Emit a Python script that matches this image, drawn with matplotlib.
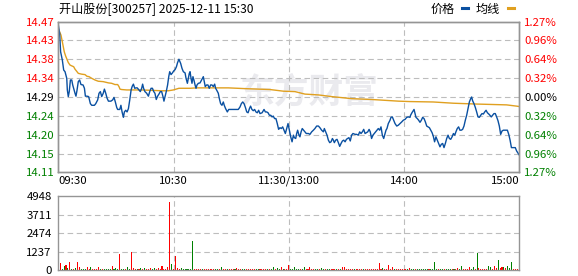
import matplotlib
matplotlib.use("Agg")
import matplotlib.pyplot as plt
from matplotlib.lines import Line2D

plt.rcParams['font.family'] = ['Noto Sans CJK SC', 'DejaVu Sans']

title = "开山股份[300257] 2025-12-11 15:30"
pre_close = 14.29
pct_levels = [1.27, 0.96, 0.64, 0.32, 0.00, -0.32, -0.64, -0.96, -1.27]
price_labels = ["14.47", "14.43", "14.38", "14.34", "14.29",
                "14.24", "14.20", "14.15", "14.11"]
pct_labels = ["1.27%", "0.96%", "0.64%", "0.32%", "0.00%",
              "0.32%", "0.64%", "0.96%", "1.27%"]
time_ticks = [0, 60, 120, 180, 240]
time_labels = ["09:30", "10:30", "11:30/13:00", "14:00", "15:00"]
vol_ticks = [0, 1237, 2474, 3711, 4948]

# price line (minute from 09:30, price)
price_min = [
    0.0, 0.7, 1.2, 2.1, 2.8, 3.5, 4.4, 4.7, 5.2, 5.7, 6.3, 7.0, 7.5, 8.2,
    8.7, 9.2, 9.7, 10.4, 11.1, 11.8, 12.9, 13.6, 14.1, 14.9, 15.8, 16.7,
    17.4, 18.8, 19.5, 20.5, 21.2, 21.9, 22.6, 23.4, 24.0, 24.7, 25.4, 26.1,
    27.4, 28.3, 29.0, 29.7, 30.4, 30.9, 32.0, 32.6, 33.2, 33.9, 34.4, 35.1,
    35.8, 36.5, 37.2, 37.9, 38.5, 39.1, 39.8, 40.5, 41.1, 42.0, 42.7, 43.4,
    43.9, 44.4, 45.1, 46.0, 46.9, 47.6, 48.3, 49.0, 49.7, 50.3, 51.0, 51.7,
    52.4, 53.1, 53.8, 54.5, 55.0, 55.6, 56.2, 56.9, 57.5, 58.0, 58.7, 59.4,
    60.1, 60.8, 61.5, 62.1, 62.8,
    63.7, 64.4, 65.1, 66.0, 66.5, 67.2, 67.7, 68.2, 68.6, 69.1, 69.6, 70.1,
    70.6, 71.2, 71.7, 72.2, 72.9, 73.8, 74.6, 75.5, 76.0, 76.5, 77.2, 77.9,
    78.6, 79.3, 80.0, 80.7, 81.4, 81.9, 82.4, 83.3, 83.8, 84.5, 85.2, 85.9,
    86.4, 87.1, 88.0, 88.7, 90.3, 92.0, 93.7, 94.6, 95.3, 96.0, 96.7, 97.4,
    98.1, 98.8, 99.5, 100.1, 100.8, 101.5, 102.2, 102.9, 103.6, 104.3,
    105.0, 106.1, 107.1, 107.8, 108.5, 109.2, 109.9, 110.6, 111.3, 111.9,
    112.6, 113.3, 114.0, 114.7, 115.4, 116.1, 116.8, 117.5, 118.2, 118.9,
    119.6, 120.3, 121.0, 121.7, 122.4, 122.9,
    123.6, 124.1, 124.6, 125.3, 125.8, 126.4, 127.0, 127.7, 128.4, 129.1,
    130.2, 131.0, 131.9, 132.8, 133.6, 134.5, 135.4, 136.2, 137.1, 138.0,
    138.5, 139.2, 139.9, 140.6, 141.3, 142.0, 142.7, 143.2, 143.7, 144.4,
    145.1, 145.8, 146.5, 147.2, 147.9, 148.6, 149.3, 150.0, 150.6, 151.3,
    152.0, 152.7, 153.4, 154.5, 155.3, 156.2, 156.9, 157.6, 158.3, 159.0,
    159.7, 160.4, 161.1, 161.8, 162.4, 163.1, 163.8, 164.5, 165.2, 165.9,
    166.6, 167.3, 168.0, 168.7, 169.4, 170.1, 170.6, 171.1, 171.8, 172.7,
    173.2, 173.9, 174.6, 175.3, 176.2, 177.0, 177.9, 178.8, 179.6, 180.5,
    181.4, 182.2, 183.1,
    183.4, 184.1, 184.8, 185.2, 185.7, 186.2, 186.9, 187.6, 188.3, 189.0,
    189.7, 190.4, 191.1, 191.8, 192.5, 193.2, 193.9, 194.6, 195.2, 195.9,
    196.6, 197.3, 198.0, 198.7, 199.4, 200.1, 200.8, 201.5, 202.2, 202.9,
    203.6, 204.3, 205.0, 205.7, 206.4, 207.0, 207.7, 208.4, 209.1, 209.8,
    210.5, 211.2, 211.9, 212.6, 213.3, 214.0, 214.7, 215.2, 215.7, 216.4,
    217.1, 217.8, 218.5, 219.2, 219.9, 220.6, 221.3, 222.0, 222.7, 223.4,
    224.1, 224.7, 225.4, 226.1, 226.8, 227.5, 228.2, 228.9, 229.6, 230.3,
    231.0, 231.7, 233.1, 233.8, 234.5, 235.2, 235.9, 236.9, 237.9, 238.6,
    239.3, 240.0,
]
price_val = [
    14.464, 14.443, 14.399, 14.379, 14.355, 14.351, 14.335, 14.307, 14.291,
    14.303, 14.331, 14.331, 14.319, 14.307, 14.299, 14.292, 14.305, 14.327,
    14.331, 14.320, 14.319, 14.311, 14.292, 14.292, 14.291, 14.274, 14.270,
    14.270, 14.274, 14.283, 14.299, 14.303, 14.291, 14.299, 14.309, 14.299,
    14.287, 14.280, 14.280, 14.283, 14.289, 14.278, 14.265, 14.260, 14.260,
    14.270, 14.254, 14.241, 14.254, 14.258, 14.254, 14.262, 14.283, 14.307,
    14.316, 14.321, 14.311, 14.312, 14.312, 14.307, 14.303, 14.311, 14.321,
    14.311, 14.303, 14.299, 14.292, 14.303, 14.311, 14.311, 14.303, 14.299,
    14.284, 14.292, 14.297, 14.303, 14.303, 14.291, 14.280, 14.291, 14.303,
    14.319, 14.339, 14.351, 14.344, 14.348, 14.353, 14.356, 14.363, 14.373,
    14.381,
    14.371, 14.359, 14.351, 14.348, 14.335, 14.323, 14.335, 14.347, 14.351,
    14.335, 14.323, 14.339, 14.331, 14.319, 14.311, 14.319, 14.323, 14.324,
    14.331, 14.339, 14.327, 14.315, 14.319, 14.319, 14.311, 14.319, 14.319,
    14.315, 14.321, 14.311, 14.307, 14.299, 14.287, 14.274, 14.270, 14.278,
    14.270, 14.262, 14.254, 14.260, 14.260, 14.260, 14.260, 14.266, 14.274,
    14.278, 14.274, 14.265, 14.254, 14.252, 14.262, 14.268, 14.260, 14.257,
    14.260, 14.254, 14.252, 14.258, 14.250, 14.252, 14.260, 14.254, 14.254,
    14.252, 14.246, 14.246, 14.242, 14.244, 14.238, 14.238, 14.226, 14.212,
    14.216, 14.214, 14.218, 14.210, 14.202, 14.214, 14.226, 14.210, 14.194,
    14.182, 14.198, 14.192,
    14.190, 14.202, 14.210, 14.198, 14.194, 14.206, 14.214, 14.210, 14.206,
    14.202, 14.202, 14.200, 14.206, 14.210, 14.214, 14.220, 14.220, 14.216,
    14.210, 14.206, 14.214, 14.206, 14.198, 14.186, 14.180, 14.182, 14.190,
    14.186, 14.180, 14.186, 14.188, 14.180, 14.171, 14.178, 14.184, 14.186,
    14.182, 14.188, 14.190, 14.192, 14.184, 14.198, 14.202, 14.200, 14.200,
    14.198, 14.206, 14.202, 14.206, 14.212, 14.202, 14.204, 14.206, 14.212,
    14.206, 14.190, 14.198, 14.202, 14.206, 14.210, 14.214, 14.210, 14.218,
    14.198, 14.190, 14.202, 14.210, 14.214, 14.226, 14.234, 14.241, 14.242,
    14.234, 14.226, 14.220, 14.222, 14.226, 14.230, 14.234, 14.236, 14.241,
    14.242, 14.241,
    14.246, 14.252, 14.257, 14.260, 14.250, 14.241, 14.238, 14.234, 14.229,
    14.234, 14.241, 14.238, 14.230, 14.220, 14.218, 14.216, 14.210, 14.204,
    14.196, 14.182, 14.194, 14.186, 14.178, 14.170, 14.176, 14.178, 14.168,
    14.178, 14.190, 14.198, 14.190, 14.188, 14.194, 14.202, 14.198, 14.206,
    14.214, 14.218, 14.210, 14.210, 14.212, 14.220, 14.234, 14.246, 14.262,
    14.278, 14.286, 14.290, 14.281, 14.274, 14.265, 14.254, 14.242, 14.241,
    14.246, 14.250, 14.249, 14.254, 14.258, 14.252, 14.249, 14.246, 14.242,
    14.246, 14.250, 14.250, 14.242, 14.233, 14.220, 14.200, 14.208, 14.210,
    14.210, 14.210, 14.200, 14.186, 14.168, 14.168, 14.168, 14.160, 14.155,
    14.150,
]

# average price line
avg_min = [0.0, 1.4, 2.1, 2.6, 3.1, 3.8, 4.5, 5.2, 6.1, 7.0, 8.0, 8.7, 9.4,
           10.4, 12.2, 13.9, 14.9, 16.0, 17.4, 19.1, 20.8, 23.4, 26.1, 27.8,
           29.5, 30.9, 31.6, 32.1, 33.0, 35.6, 38.2, 43.4, 48.6, 53.8, 57.3,
           59.9, 62.8, 68.6, 72.0, 79.0, 88.5, 98.1, 110.2, 117.2, 123.2,
           128.4, 135.4, 142.3, 152.7, 163.1, 170.1, 177.0, 183.1, 195.2,
           205.7, 217.8, 233.4, 238.6, 240.0]
avg_val = [14.455, 14.439, 14.423, 14.411, 14.399, 14.389, 14.381, 14.373,
           14.367, 14.365, 14.363, 14.357, 14.353, 14.347, 14.345, 14.344,
           14.340, 14.339, 14.335, 14.331, 14.328, 14.327, 14.324, 14.323,
           14.320, 14.320, 14.315, 14.309, 14.308, 14.307, 14.307, 14.307,
           14.306, 14.305, 14.305, 14.307, 14.311, 14.311, 14.312, 14.312,
           14.312, 14.310, 14.308, 14.304, 14.303, 14.297, 14.295, 14.291,
           14.286, 14.284, 14.282, 14.280, 14.279, 14.278, 14.275, 14.273,
           14.271, 14.268, 14.267]

# volume per minute (241 bars) and direction r=up g=down
volumes = [
    0, 470, 70, 250, 340, 130, 540, 70, 70, 130,
    540, 200, 70, 70, 70, 200, 70, 200, 70, 70,
    70, 200, 70, 70, 70, 70, 70, 70, 270, 70,
    130, 70, 1075, 70, 70, 70, 200, 70, 1210, 130,
    70, 70, 70, 130, 70, 130, 70, 70, 130, 70,
    130, 70, 130, 70, 270, 70, 70, 200, 4570, 400,
    70, 940, 130, 70, 130, 70, 70, 70, 70, 70,
    1950, 70, 70, 70, 70, 70, 70, 70, 70, 70,
    70, 70, 70, 70, 70, 200, 70, 70, 70, 70,
    70, 70, 70, 130, 70, 70, 70, 70, 70, 70,
    70, 70, 70, 70, 70, 70, 70, 70, 70, 70,
    70, 70, 200, 70, 130, 70, 200, 70, 70, 70,
    336, 70, 70, 200, 70, 70, 70, 70, 200, 70,
    70, 200, 70, 70, 70, 70, 70, 130, 70, 70,
    70, 70, 70, 70, 70, 70, 70, 70, 200, 200,
    70, 70, 70, 70, 70, 70, 70, 70, 70, 70,
    70, 70, 70, 70, 70, 70, 70, 470, 70, 130,
    70, 70, 336, 70, 200, 70, 70, 70, 70, 70,
    70, 70, 70, 130, 70, 70, 70, 70, 70, 70,
    70, 70, 70, 70, 70, 70, 540, 70, 70, 70,
    70, 70, 70, 70, 70, 70, 70, 70, 130, 70,
    270, 70, 70, 70, 200, 70, 200, 70, 1150, 130,
    70, 70, 70, 70, 270, 200, 70, 270, 130, 680,
    130, 200, 200, 130, 270, 130, 550, 70, 70, 70, 410,
]
vol_dir = ("rrggrgrgrg" "rrgggrrgrr" "rrgrggggrg" "ggrggrggrr"
           "rgrgrgrrrg" "grrrrrrrrg" "rrrrgggggg" "grrrrgrrrr"
           "rrggrgrrgr" "rrgrrrggrr" "rrrggrrrrg" "rggrggrgrr"
           "rgggggrggr" "rrrrggrggr" "ggrrrgrgrr" "rrrrgrrrrg"
           "rrrrrrrrrg" "rrrrrgrrrr" "rrgrggrggg" "gggrggggrg"
           "grgggrgrrg" "grrrrggrgr" "rrrrggrrrg" "rrgrgggrrrg")

UP = '#FF0000'
DOWN = '#008000'
BORDER = '#959595'
GRID = '#BDBDBD'


def style_axes(ax, yvals):
    for s in ax.spines.values():
        s.set_color(BORDER)
        s.set_linewidth(1.0)
        s.set_zorder(5)
    ax.tick_params(length=0)
    # dashed grid at the inner ticks
    for y in yvals[1:-1]:
        ax.axhline(y, color=GRID, linewidth=0.8, dashes=(5, 3.2),
                   snap=True, zorder=1.5)
    for x in time_ticks[1:-1]:
        ax.axvline(x, color=GRID, linewidth=0.8, dashes=(5, 3.2),
                   snap=True, zorder=1.5)


def main():
    fig = plt.figure(figsize=(5.78, 2.76), dpi=100)
    fig.patch.set_facecolor('white')

    ax = fig.add_axes([58.3 / 578, (276 - 172.3) / 276, 461 / 578, 150.6 / 276])
    ax_v = fig.add_axes([58.3 / 578, (276 - 270) / 276, 461 / 578, 73.7 / 276])

    levels = [pre_close * (1 + p / 100) for p in pct_levels]
    lab_colors = [UP if p > 0 else (DOWN if p < 0 else 'black') for p in pct_levels]

    # price panel
    ax.set_xlim(time_ticks[0], time_ticks[-1])
    ax.set_ylim(levels[-1], levels[0])
    style_axes(ax, levels)
    ax.text(0.545, 0.53, "东方财富", transform=ax.transAxes, fontsize=25,
            fontweight='bold', color='#EAEAEE', ha='center', va='center',
            zorder=0)
    ax.plot(avg_min, avg_val, color='#E0A020', linewidth=1.0, zorder=3)
    ax.plot(price_min, price_val, color='#0A50A1', linewidth=1.0, zorder=4)

    ax.set_yticks(levels)
    ax.set_yticklabels(price_labels, fontsize=8.2)
    ax.tick_params(axis='y', pad=2.4)
    for t, c in zip(ax.get_yticklabels(), lab_colors):
        t.set_color(c)

    ax.set_xticks(time_ticks)
    ax.set_xticklabels(time_labels, fontsize=8.2)
    ax.tick_params(axis='x', pad=2.5)
    xl = ax.get_xticklabels()
    xl[0].set_horizontalalignment('left')
    xl[-1].set_horizontalalignment('right')

    ax_r = ax.twinx()
    ax_r.set_ylim(ax.get_ylim())
    ax_r.set_yticks(levels)
    ax_r.set_yticklabels(pct_labels, fontsize=8.2)
    ax_r.tick_params(length=0, pad=3.4)
    for s in ax_r.spines.values():
        s.set_color(BORDER)
        s.set_linewidth(1.0)
    for t, c in zip(ax_r.get_yticklabels(), lab_colors):
        t.set_color(c)

    # volume panel
    ax_v.set_xlim(time_ticks[0], time_ticks[-1])
    ax_v.set_ylim(vol_ticks[0], vol_ticks[-1])
    style_axes(ax_v, vol_ticks)
    bar_colors = [UP if d == 'r' else DOWN for d in vol_dir]
    ax_v.bar(range(len(volumes)), volumes, width=0.55, color=bar_colors,
             linewidth=0, antialiased=False, zorder=2)
    ax_v.set_xticks(time_ticks)
    ax_v.set_xticklabels([])
    ax_v.set_yticks(vol_ticks)
    ax_v.set_yticklabels([str(v) for v in vol_ticks], fontsize=8.2)
    ax_v.tick_params(axis='y', pad=4.7)

    # title and legend
    fig.text(59 / 578, 1 - 9 / 276, title, fontsize=8.7, ha='left', va='center')
    fig.text(455 / 578, 1 - 9 / 276, "价格", fontsize=8.7, ha='right', va='center')
    fig.text(500 / 578, 1 - 9 / 276, "均线", fontsize=8.7, ha='right', va='center')
    fig.add_artist(Line2D([462 / 578, 468 / 578], [1 - 8 / 276, 1 - 8 / 276],
                          color='#0A50A1', linewidth=2.2, transform=fig.transFigure))
    fig.add_artist(Line2D([508 / 578, 514 / 578], [1 - 8 / 276, 1 - 8 / 276],
                          color='#E0A020', linewidth=2.2, transform=fig.transFigure))

    fig.savefig("out.png", dpi=100)


if __name__ == "__main__":
    main()
